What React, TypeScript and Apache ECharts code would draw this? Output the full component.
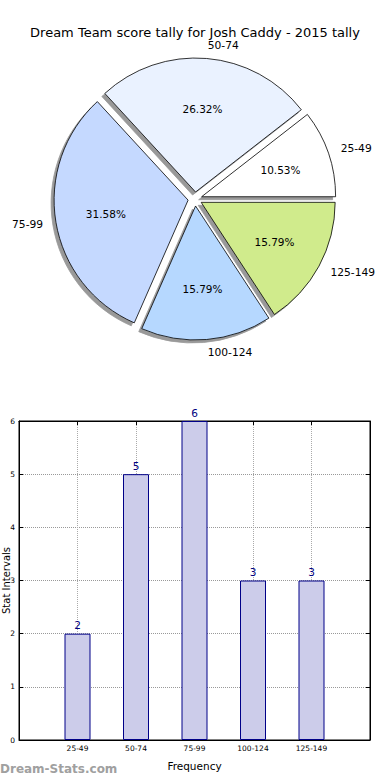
import React, { useEffect, useRef } from "react";
import * as echarts from "echarts";

const title = "Dream Team score tally for Josh Caddy - 2015 tally";
const categories = ["25-49", "50-74", "75-99", "100-124", "125-149"];
const counts = [2, 5, 6, 3, 3];
const sliceColors = ["#ffffff", "#eaf2ff", "#c5d9ff", "#b6d8ff", "#d0eb8c"];
const yTicks = [0, 1, 2, 3, 4, 5, 6];
const xAxisName = "Frequency";
const yAxisName = "Stat Intervals";
const watermark = "Dream-Stats.com";

const FONT = "DejaVu Sans";

export default function App() {
  const ref = useRef<HTMLDivElement>(null);
  useEffect(() => {
    if (!ref.current) return;
    const chart = echarts.init(ref.current, undefined, { renderer: "svg" });
    const R = 134;
    const total = counts.reduce((a, b) => a + b, 0);
    const pieData = categories.map((c, i) => ({
      name: c,
      value: counts[i],
      selected: true,
      itemStyle: { color: sliceColors[i] },
    }));
    const pctData = categories.map((c, i) => ({
      name: c,
      value: counts[i],
      selected: true,
    }));
    chart.setOption({
      animation: false,
      title: {
        text: title,
        left: "center",
        top: 21,
        textStyle: { fontFamily: FONT, fontSize: 13, fontWeight: "normal", color: "#000" },
      },
      tooltip: { show: false },
      graphic: [
        {
          type: "text",
          left: 0,
          top: 763,
          style: {
            text: watermark,
            fill: "#a0a0a0",
            font: `bold 12px '${FONT}'`,
          },
        },
      ],
      grid: {
        left: 19,
        right: 20,
        top: 421,
        bottom: 40,
        containLabel: false,
        outerBoundsMode: "none",
        show: true,
        borderColor: "#000",
        borderWidth: 1,
        backgroundColor: "transparent",
      },
      xAxis: [
        {
          type: "value",
          min: -1,
          max: 5,
          interval: 1,
          position: "bottom",
          name: xAxisName,
          nameLocation: "middle",
          nameGap: 20,
          nameMoveOverlap: false,
          nameTextStyle: { fontFamily: FONT, fontSize: 10.5, color: "#000" },
          axisLine: { show: true, onZero: false, lineStyle: { color: "#000" } },
          axisTick: { show: true, inside: true, length: 4, lineStyle: { color: "#000" } },
          axisLabel: {
            fontFamily: FONT,
            fontSize: 7.5,
            color: "#000",
            margin: 4,
            formatter: (v: number) => (categories[v] !== undefined ? categories[v] : ""),
          },
          splitLine: { show: true, lineStyle: { color: "#aaa", type: "dotted", width: 1 } },
        },
        {
          type: "value",
          min: -1,
          max: 5,
          interval: 1,
          position: "top",
          axisLine: { show: true, onZero: false, lineStyle: { color: "#000" } },
          axisTick: { show: true, inside: true, length: 4, lineStyle: { color: "#000" } },
          axisLabel: { show: false },
          splitLine: { show: false },
        },
      ],
      yAxis: [
        {
          type: "value",
          min: 0,
          max: 6,
          interval: 1,
          position: "left",
          name: yAxisName,
          nameLocation: "middle",
          nameGap: 8,
          nameMoveOverlap: false,
          nameTextStyle: { fontFamily: FONT, fontSize: 10, color: "#000" },
          axisLine: { show: true, onZero: false, lineStyle: { color: "#000" } },
          axisTick: { show: true, inside: true, length: 4, lineStyle: { color: "#000" } },
          axisLabel: {
            fontFamily: FONT,
            fontSize: 7.5,
            color: "#000",
            margin: 4,
            formatter: (v: number) => (yTicks.includes(v) ? String(v) : ""),
          },
          splitLine: { show: true, lineStyle: { color: "#999", type: "dotted", width: 1 } },
        },
        {
          type: "value",
          min: 0,
          max: 6,
          interval: 1,
          position: "right",
          axisLine: { show: true, onZero: false, lineStyle: { color: "#000" } },
          axisTick: { show: true, inside: true, length: 4, lineStyle: { color: "#000" } },
          axisLabel: { show: false },
          splitLine: { show: false },
        },
      ],
      series: [
        {
          type: "pie",
          center: [195, 199],
          radius: [0, R],
          startAngle: 0,
          clockwise: false,
          selectedMode: "multiple",
          selectedOffset: 7,
          avoidLabelOverlap: false,
          data: pieData,
          itemStyle: {
            borderColor: "#000",
            borderWidth: 0.8,
            shadowColor: "rgba(0,0,0,0.4)",
            shadowOffsetX: -3,
            shadowOffsetY: 3,
            shadowBlur: 0,
          },
          select: { itemStyle: { borderColor: "#000", borderWidth: 0.8 } },
          emphasis: { disabled: true },
          label: {
            show: true,
            position: "outside",
            formatter: "{b}",
            fontFamily: FONT,
            fontSize: 10.7,
            color: "#000",
            distanceToLabelLine: 0,
          },
          labelLine: { show: false, length: 13, length2: 0 },
        },
        {
          type: "pie",
          center: [195, 199],
          radius: [R * 0.2, R],
          startAngle: 0,
          clockwise: false,
          selectedMode: "multiple",
          selectedOffset: 7,
          avoidLabelOverlap: false,
          silent: true,
          data: pctData,
          itemStyle: { color: "rgba(0,0,0,0)", borderWidth: 0 },
          select: { itemStyle: { color: "rgba(0,0,0,0)", borderWidth: 0 } },
          emphasis: { disabled: true },
          label: {
            show: true,
            position: "inside",
            formatter: (p: any) => ((p.value / total) * 100).toFixed(2) + "%",
            fontFamily: FONT,
            fontSize: 10.5,
            color: "#000",
          },
          labelLine: { show: false },
        },
        {
          type: "bar",
          xAxisIndex: 0,
          yAxisIndex: 0,
          barWidth: 26,
          data: categories.map((c, i) => [i, counts[i]]),
          itemStyle: { color: "#ccccea", borderColor: "#000088", borderWidth: 1 },
          emphasis: { disabled: true },
          label: {
            show: true,
            position: "top",
            distance: 3,
            fontFamily: FONT,
            fontSize: 10.5,
            color: "#000080",
            formatter: (p: any) => String(p.value[1]),
          },
        },
      ],
    });
    return () => chart.dispose();
  }, []);
  return (
    <div
      ref={ref}
      style={{ position: "absolute", left: 0, top: 0, width: 390, height: 780, background: "#fff" }}
    />
  );
}
